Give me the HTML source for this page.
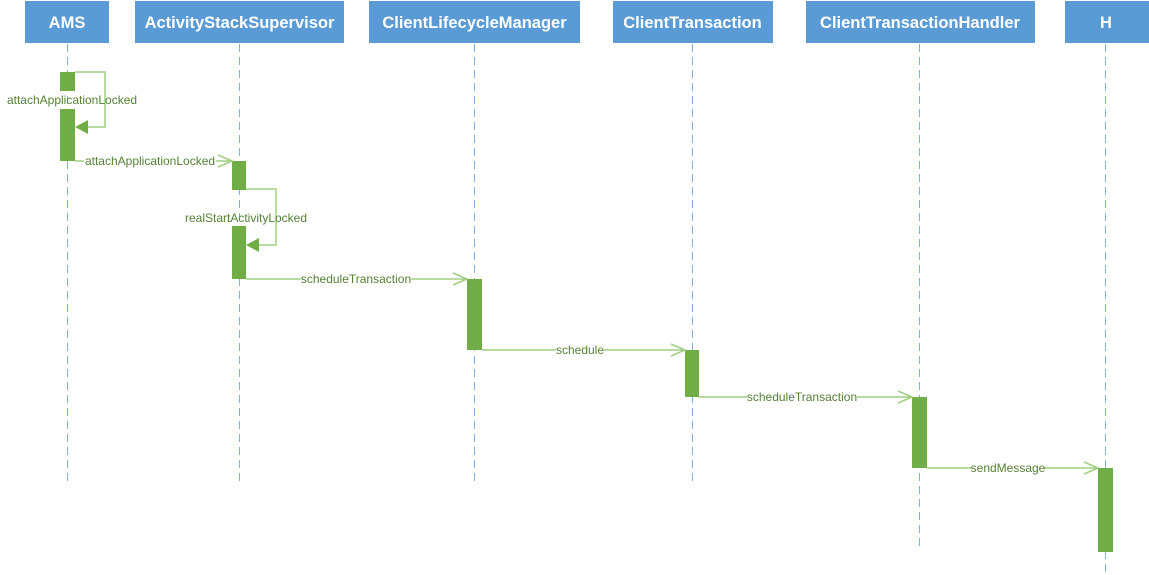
<!DOCTYPE html>
<html><head><meta charset="utf-8"><style>
body{margin:0;background:#fff;}
svg{display:block}
.h{font-family:"Liberation Sans",sans-serif;font-weight:bold;font-size:16.5px;fill:#fff;text-anchor:middle}
.l{font-family:"Liberation Sans",sans-serif;font-size:12px;fill:#548235;text-anchor:middle}
.ll{stroke:#7fb0de;stroke-width:1;stroke-dasharray:8,5}
.m{stroke:#9fcf80;stroke-width:1.5;fill:none}
.a{fill:#70ad47}
</style></head><body>
<svg width="1149" height="575" xmlns="http://www.w3.org/2000/svg">
<g fill="#5b9bd5">
<rect x="25" y="1" width="84" height="42"/>
<rect x="135" y="1" width="209" height="42"/>
<rect x="369" y="1" width="211" height="42"/>
<rect x="613" y="1" width="160" height="42"/>
<rect x="806" y="1" width="229" height="42"/>
<rect x="1065" y="1" width="84" height="42"/>
</g>
<text class="h" x="67" y="28">AMS</text>
<text class="h" x="239.5" y="28">ActivityStackSupervisor</text>
<text class="h" x="474.5" y="28">ClientLifecycleManager</text>
<text class="h" x="692.5" y="28">ClientTransaction</text>
<text class="h" x="920" y="28">ClientTransactionHandler</text>
<text class="h" x="1106" y="28">H</text>
<line class="ll" x1="67.5" y1="44" x2="67.5" y2="482"/>
<line class="ll" x1="239.5" y1="44" x2="239.5" y2="482"/>
<line class="ll" x1="474.5" y1="44" x2="474.5" y2="482"/>
<line class="ll" x1="692.5" y1="44" x2="692.5" y2="482"/>
<line class="ll" x1="919.5" y1="44" x2="919.5" y2="550"/>
<line class="ll" x1="1105.5" y1="44" x2="1105.5" y2="575"/>
<path class="m" d="M75 72H105V127H80"/>
<polygon points="75,127 88,120 88,134" fill="#70ad47"/>
<path class="m" d="M246 189H276V245H251"/>
<polygon points="246,245 259,238 259,252" fill="#70ad47"/>
<rect class="a" x="60" y="72" width="15" height="19"/>
<rect class="a" x="60" y="109" width="15" height="52"/>
<rect class="a" x="232" y="161" width="14" height="29"/>
<rect class="a" x="232" y="226" width="14" height="53"/>
<rect class="a" x="467" y="279" width="15" height="71"/>
<rect class="a" x="685" y="350" width="14" height="47"/>
<rect class="a" x="912" y="397" width="15" height="71"/>
<rect class="a" x="1098" y="468" width="15" height="84"/>
<g class="m">
<path d="M75 161H232M218 155L232 161L218 167"/>
<path d="M246 279H467M453 273L467 279L453 285"/>
<path d="M482 350H685M671 344L685 350L671 356"/>
<path d="M699 397H912M898 391L912 397L898 403"/>
<path d="M927 468H1098M1084 462L1098 468L1084 474"/>
</g>
<g fill="#fff">
<rect x="84" y="154" width="132" height="14"/>
<rect x="301" y="272" width="110" height="14"/>
<rect x="556" y="343" width="48" height="14"/>
<rect x="747" y="390" width="110" height="14"/>
<rect x="972" y="461" width="72" height="14"/>
</g>
<text class="l" x="72" y="104">attachApplicationLocked</text>
<text class="l" x="150" y="165">attachApplicationLocked</text>
<text class="l" x="246" y="222">realStartActivityLocked</text>
<text class="l" x="356" y="283">scheduleTransaction</text>
<text class="l" x="580" y="354">schedule</text>
<text class="l" x="802" y="401">scheduleTransaction</text>
<text class="l" x="1008" y="472">sendMessage</text>
</svg>
</body></html>
